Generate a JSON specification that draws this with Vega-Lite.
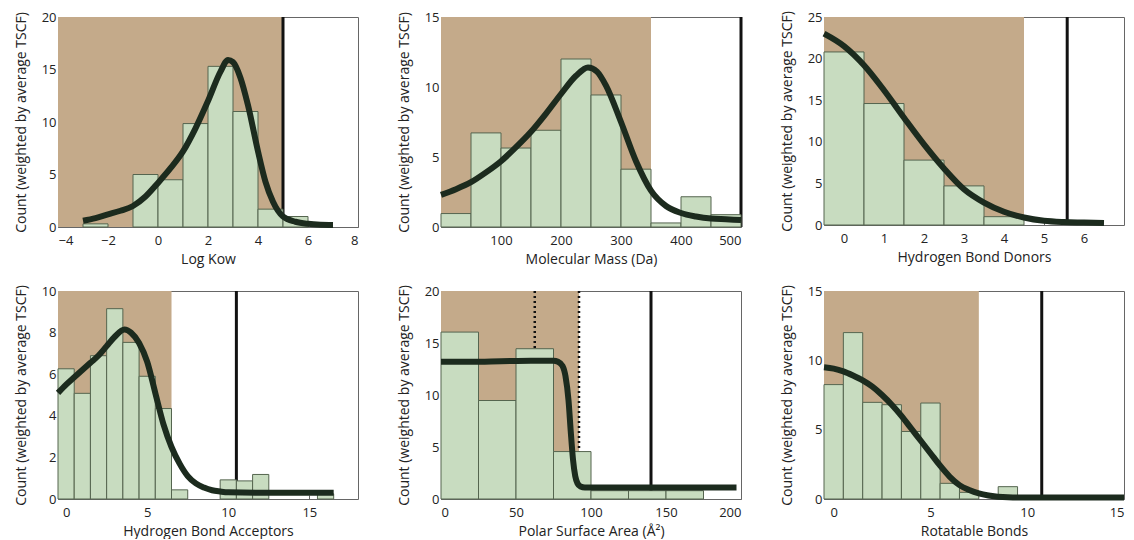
{
  "$schema": "https://vega.github.io/schema/vega-lite/v6.json",
  "padding": {"left": 13, "top": 10, "right": 0, "bottom": 0},
  "background": "white",
  "config": {
    "font": "Open Sans",
    "view": {"stroke": "#666", "strokeWidth": 1},
    "axis": {
      "domain": false, "grid": false, "tickSize": -4, "tickColor": "#666",
      "labelFont": "Open Sans", "labelFontSize": 13, "labelColor": "#222",
      "titleFont": "Open Sans", "titleFontSize": 14, "titleFontWeight": "normal", "titleColor": "#222"
    },
    "axisX": {"labelPadding": 11, "titlePadding": 5},
    "axisY": {"labelPadding": 6, "titlePadding": 13}
  },
  "datasets": {
    "bars": [
      {"p":"kow","x0":-3,"x1":-2,"y":0.3},
      {"p":"kow","x0":-1,"x1":0,"y":5.0},
      {"p":"kow","x0":0,"x1":1,"y":4.5},
      {"p":"kow","x0":1,"x1":2,"y":9.85},
      {"p":"kow","x0":2,"x1":3,"y":15.3},
      {"p":"kow","x0":3,"x1":4,"y":11.0},
      {"p":"kow","x0":4,"x1":5,"y":1.7},
      {"p":"kow","x0":5,"x1":6,"y":1.0},
      {"p":"mass","x0":0,"x1":50,"y":0.96},
      {"p":"mass","x0":50,"x1":100,"y":6.72},
      {"p":"mass","x0":100,"x1":150,"y":5.64},
      {"p":"mass","x0":150,"x1":200,"y":6.91},
      {"p":"mass","x0":200,"x1":250,"y":12.0},
      {"p":"mass","x0":250,"x1":300,"y":9.43},
      {"p":"mass","x0":300,"x1":350,"y":4.13},
      {"p":"mass","x0":350,"x1":400,"y":0.29},
      {"p":"mass","x0":400,"x1":450,"y":2.16},
      {"p":"mass","x0":450,"x1":500,"y":0.88},
      {"p":"hbd","x0":-0.5,"x1":0.5,"y":20.8},
      {"p":"hbd","x0":0.5,"x1":1.5,"y":14.6},
      {"p":"hbd","x0":1.5,"x1":2.5,"y":7.8},
      {"p":"hbd","x0":2.5,"x1":3.5,"y":4.7},
      {"p":"hbd","x0":3.5,"x1":4.5,"y":1.0},
      {"p":"hba","x0":-0.5,"x1":0.5,"y":6.26},
      {"p":"hba","x0":0.5,"x1":1.5,"y":5.08},
      {"p":"hba","x0":1.5,"x1":2.5,"y":6.89},
      {"p":"hba","x0":2.5,"x1":3.5,"y":9.15},
      {"p":"hba","x0":3.5,"x1":4.5,"y":7.53},
      {"p":"hba","x0":4.5,"x1":5.5,"y":5.9},
      {"p":"hba","x0":5.5,"x1":6.5,"y":4.35},
      {"p":"hba","x0":6.5,"x1":7.5,"y":0.44},
      {"p":"hba","x0":9.5,"x1":10.5,"y":0.92},
      {"p":"hba","x0":10.5,"x1":11.5,"y":0.87},
      {"p":"hba","x0":11.5,"x1":12.5,"y":1.18},
      {"p":"hba","x0":15.5,"x1":16.5,"y":0.25},
      {"p":"psa","x0":0,"x1":25,"y":16.05},
      {"p":"psa","x0":25,"x1":50,"y":9.47},
      {"p":"psa","x0":50,"x1":75,"y":14.45},
      {"p":"psa","x0":75,"x1":100,"y":4.56},
      {"p":"psa","x0":100,"x1":125,"y":0.8},
      {"p":"psa","x0":125,"x1":150,"y":0.8},
      {"p":"psa","x0":150,"x1":175,"y":0.8},
      {"p":"rb","x0":-0.5,"x1":0.5,"y":8.25},
      {"p":"rb","x0":0.5,"x1":1.5,"y":12.0},
      {"p":"rb","x0":1.5,"x1":2.5,"y":6.97},
      {"p":"rb","x0":2.5,"x1":3.5,"y":6.8},
      {"p":"rb","x0":3.5,"x1":4.5,"y":4.87},
      {"p":"rb","x0":4.5,"x1":5.5,"y":6.92},
      {"p":"rb","x0":5.5,"x1":6.5,"y":1.13},
      {"p":"rb","x0":6.5,"x1":7.5,"y":0.48},
      {"p":"rb","x0":8.5,"x1":9.5,"y":0.89}
    ],
    "region": [
      {"p":"kow","x0":-4,"x1":5},
      {"p":"mass","x0":0,"x1":350},
      {"p":"hbd","x0":-0.5,"x1":4.5},
      {"p":"hba","x0":-0.5,"x1":6.5},
      {"p":"psa","x0":0,"x1":92},
      {"p":"rb","x0":-0.5,"x1":7.5}
    ],
    "limits": [
      {"p":"kow","x":5},
      {"p":"mass","x":500},
      {"p":"hbd","x":5.58},
      {"p":"hba","x":10.5},
      {"p":"psa","x":140},
      {"p":"rb","x":10.75}
    ],
    "ranges": [
      {"p":"psa","x":62.5},
      {"p":"psa","x":92}
    ],
    "curve": [
      {"p":"kow","x":-3,"y":0.6},{"p":"kow","x":-2.5,"y":0.85},{"p":"kow","x":-2,"y":1.2},{"p":"kow","x":-1.5,"y":1.55},
      {"p":"kow","x":-1,"y":2.0},{"p":"kow","x":-0.5,"y":2.9},{"p":"kow","x":0,"y":4.2},{"p":"kow","x":0.5,"y":5.6},
      {"p":"kow","x":1,"y":7.2},{"p":"kow","x":1.5,"y":9.4},{"p":"kow","x":2,"y":12.0},{"p":"kow","x":2.5,"y":14.8},
      {"p":"kow","x":2.8,"y":15.9},{"p":"kow","x":3.0,"y":15.7},{"p":"kow","x":3.3,"y":14.2},{"p":"kow","x":3.6,"y":11.6},
      {"p":"kow","x":4.0,"y":7.2},{"p":"kow","x":4.3,"y":4.3},{"p":"kow","x":4.6,"y":2.4},{"p":"kow","x":5.0,"y":1.0},
      {"p":"kow","x":5.5,"y":0.5},{"p":"kow","x":6.0,"y":0.3},{"p":"kow","x":6.5,"y":0.22},{"p":"kow","x":7.0,"y":0.2},
      {"p":"mass","x":0,"y":2.3},{"p":"mass","x":25,"y":2.7},{"p":"mass","x":50,"y":3.2},{"p":"mass","x":75,"y":3.9},
      {"p":"mass","x":100,"y":4.7},{"p":"mass","x":125,"y":5.7},{"p":"mass","x":150,"y":6.8},{"p":"mass","x":175,"y":8.1},
      {"p":"mass","x":200,"y":9.5},{"p":"mass","x":225,"y":10.8},{"p":"mass","x":245,"y":11.4},{"p":"mass","x":260,"y":11.1},
      {"p":"mass","x":275,"y":10.1},{"p":"mass","x":300,"y":7.5},{"p":"mass","x":325,"y":4.7},{"p":"mass","x":350,"y":2.6},
      {"p":"mass","x":375,"y":1.5},{"p":"mass","x":400,"y":1.0},{"p":"mass","x":425,"y":0.75},{"p":"mass","x":450,"y":0.6},
      {"p":"mass","x":475,"y":0.55},{"p":"mass","x":500,"y":0.5},
      {"p":"hbd","x":-0.5,"y":23.0},{"p":"hbd","x":0,"y":21.5},{"p":"hbd","x":0.5,"y":19.2},{"p":"hbd","x":1,"y":16.2},
      {"p":"hbd","x":1.5,"y":12.9},{"p":"hbd","x":2,"y":9.7},{"p":"hbd","x":2.5,"y":6.8},{"p":"hbd","x":3,"y":4.3},
      {"p":"hbd","x":3.5,"y":2.7},{"p":"hbd","x":4,"y":1.6},{"p":"hbd","x":4.5,"y":0.9},{"p":"hbd","x":5,"y":0.5},
      {"p":"hbd","x":5.5,"y":0.35},{"p":"hbd","x":6,"y":0.3},{"p":"hbd","x":6.5,"y":0.25},
      {"p":"hba","x":-0.5,"y":5.1},{"p":"hba","x":0,"y":5.5},{"p":"hba","x":0.5,"y":5.85},{"p":"hba","x":1,"y":6.2},
      {"p":"hba","x":1.5,"y":6.55},{"p":"hba","x":2,"y":6.9},{"p":"hba","x":2.5,"y":7.35},{"p":"hba","x":3,"y":7.8},
      {"p":"hba","x":3.6,"y":8.15},{"p":"hba","x":4,"y":8.0},{"p":"hba","x":4.5,"y":7.5},{"p":"hba","x":5,"y":6.6},
      {"p":"hba","x":5.5,"y":5.1},{"p":"hba","x":6,"y":3.6},{"p":"hba","x":6.5,"y":2.5},{"p":"hba","x":7,"y":1.7},
      {"p":"hba","x":7.5,"y":1.1},{"p":"hba","x":8,"y":0.75},{"p":"hba","x":8.5,"y":0.55},{"p":"hba","x":9,"y":0.42},
      {"p":"hba","x":9.5,"y":0.36},{"p":"hba","x":10,"y":0.32},{"p":"hba","x":12,"y":0.3},{"p":"hba","x":14,"y":0.3},
      {"p":"hba","x":16.5,"y":0.3},
      {"p":"psa","x":0,"y":13.2},{"p":"psa","x":20,"y":13.2},{"p":"psa","x":40,"y":13.25},{"p":"psa","x":60,"y":13.3},
      {"p":"psa","x":75,"y":13.3},{"p":"psa","x":78,"y":13.2},{"p":"psa","x":81,"y":12.8},{"p":"psa","x":83,"y":11.8},
      {"p":"psa","x":85,"y":9.5},{"p":"psa","x":86.5,"y":6.5},{"p":"psa","x":88,"y":3.8},{"p":"psa","x":89.5,"y":2.2},
      {"p":"psa","x":91,"y":1.5},{"p":"psa","x":93,"y":1.2},{"p":"psa","x":96,"y":1.1},{"p":"psa","x":120,"y":1.1},
      {"p":"psa","x":160,"y":1.1},{"p":"psa","x":197,"y":1.1},
      {"p":"rb","x":-0.5,"y":9.5},{"p":"rb","x":0,"y":9.4},{"p":"rb","x":0.5,"y":9.2},{"p":"rb","x":1,"y":8.9},
      {"p":"rb","x":1.5,"y":8.55},{"p":"rb","x":2,"y":8.1},{"p":"rb","x":2.5,"y":7.5},{"p":"rb","x":3,"y":6.8},
      {"p":"rb","x":3.5,"y":6.0},{"p":"rb","x":4,"y":5.1},{"p":"rb","x":4.5,"y":4.2},{"p":"rb","x":5,"y":3.3},
      {"p":"rb","x":5.5,"y":2.4},{"p":"rb","x":6,"y":1.6},{"p":"rb","x":6.5,"y":1.0},{"p":"rb","x":7,"y":0.65},
      {"p":"rb","x":7.5,"y":0.4},{"p":"rb","x":8,"y":0.25},{"p":"rb","x":9,"y":0.12},{"p":"rb","x":10,"y":0.1},
      {"p":"rb","x":12,"y":0.1},{"p":"rb","x":15,"y":0.1}
    ]
  },
  "spacing": 17,
  "vconcat": [
    {
      "spacing": 83,
      "bounds": "flush",
      "hconcat": [
        {
          "width": 300, "height": 210,
          "layer": [
            {"data": {"name": "region"}, "transform": [{"filter": "datum.p == 'kow'"}], "mark": {"type": "rect", "color": "#c4aa8a"},
             "encoding": {"x": {"field": "x0", "type": "quantitative", "scale": {"domain": [-4, 8], "nice": false, "zero": false}, "axis": {"title": "Log Kow", "values": [-4,-2,0,2,4,6,8]}}, "x2": {"field": "x1"}}},
            {"data": {"name": "limits"}, "transform": [{"filter": "datum.p == 'kow'"}], "mark": {"type": "rule", "color": "#111", "strokeWidth": 3},
             "encoding": {"x": {"field": "x", "type": "quantitative"}}},
            {"data": {"name": "bars"}, "transform": [{"filter": "datum.p == 'kow'"}], "mark": {"type": "rect", "fill": "#c8dcc0", "stroke": "#55654f", "strokeWidth": 1},
             "encoding": {"x": {"field": "x0", "type": "quantitative"}, "x2": {"field": "x1"},
                          "y": {"field": "y", "type": "quantitative", "scale": {"domain": [0, 20], "nice": false}, "axis": {"title": "Count (weighted by average TSCF)", "values": [0,5,10,15,20]}}, "y2": {"datum": 0}}},
            {"data": {"name": "curve"}, "transform": [{"filter": "datum.p == 'kow'"}], "mark": {"type": "line", "color": "#1c2b1e", "strokeWidth": 6, "strokeCap": "butt", "interpolate": "monotone"},
             "encoding": {"x": {"field": "x", "type": "quantitative"}, "y": {"field": "y", "type": "quantitative"}}}
          ]
        },
        {
          "width": 300, "height": 210,
          "layer": [
            {"data": {"name": "region"}, "transform": [{"filter": "datum.p == 'mass'"}], "mark": {"type": "rect", "color": "#c4aa8a"},
             "encoding": {"x": {"field": "x0", "type": "quantitative", "scale": {"domain": [0, 500], "nice": false, "zero": false}, "axis": {"title": "Molecular Mass (Da)", "values": [100,200,300,400,500]}}, "x2": {"field": "x1"}}},
            {"data": {"name": "limits"}, "transform": [{"filter": "datum.p == 'mass'"}], "mark": {"type": "rule", "color": "#111", "strokeWidth": 3},
             "encoding": {"x": {"field": "x", "type": "quantitative"}}},
            {"data": {"name": "bars"}, "transform": [{"filter": "datum.p == 'mass'"}], "mark": {"type": "rect", "fill": "#c8dcc0", "stroke": "#55654f", "strokeWidth": 1},
             "encoding": {"x": {"field": "x0", "type": "quantitative"}, "x2": {"field": "x1"},
                          "y": {"field": "y", "type": "quantitative", "scale": {"domain": [0, 15], "nice": false}, "axis": {"title": "Count (weighted by average TSCF)", "values": [0,5,10,15]}}, "y2": {"datum": 0}}},
            {"data": {"name": "curve"}, "transform": [{"filter": "datum.p == 'mass'"}], "mark": {"type": "line", "color": "#1c2b1e", "strokeWidth": 6, "strokeCap": "butt", "interpolate": "monotone"},
             "encoding": {"x": {"field": "x", "type": "quantitative"}, "y": {"field": "y", "type": "quantitative"}}}
          ]
        },
        {
          "width": 300, "height": 208,
          "layer": [
            {"data": {"name": "region"}, "transform": [{"filter": "datum.p == 'hbd'"}], "mark": {"type": "rect", "color": "#c4aa8a"},
             "encoding": {"x": {"field": "x0", "type": "quantitative", "scale": {"domain": [-0.5, 7], "nice": false, "zero": false}, "axis": {"title": "Hydrogen Bond Donors", "values": [0,1,2,3,4,5,6]}}, "x2": {"field": "x1"}}},
            {"data": {"name": "limits"}, "transform": [{"filter": "datum.p == 'hbd'"}], "mark": {"type": "rule", "color": "#111", "strokeWidth": 3},
             "encoding": {"x": {"field": "x", "type": "quantitative"}}},
            {"data": {"name": "bars"}, "transform": [{"filter": "datum.p == 'hbd'"}], "mark": {"type": "rect", "fill": "#c8dcc0", "stroke": "#55654f", "strokeWidth": 1},
             "encoding": {"x": {"field": "x0", "type": "quantitative"}, "x2": {"field": "x1"},
                          "y": {"field": "y", "type": "quantitative", "scale": {"domain": [0, 25], "nice": false}, "axis": {"title": "Count (weighted by average TSCF)", "values": [0,5,10,15,20,25]}}, "y2": {"datum": 0}}},
            {"data": {"name": "curve"}, "transform": [{"filter": "datum.p == 'hbd'"}], "mark": {"type": "line", "color": "#1c2b1e", "strokeWidth": 6, "strokeCap": "butt", "interpolate": "monotone"},
             "encoding": {"x": {"field": "x", "type": "quantitative"}, "y": {"field": "y", "type": "quantitative"}}}
          ]
        }
      ]
    },
    {
      "spacing": 83,
      "bounds": "flush",
      "hconcat": [
        {
          "width": 300, "height": 208,
          "layer": [
            {"data": {"name": "region"}, "transform": [{"filter": "datum.p == 'hba'"}], "mark": {"type": "rect", "color": "#c4aa8a"},
             "encoding": {"x": {"field": "x0", "type": "quantitative", "scale": {"domain": [-0.5, 18], "nice": false, "zero": false}, "axis": {"title": "Hydrogen Bond Acceptors", "values": [0,5,10,15]}}, "x2": {"field": "x1"}}},
            {"data": {"name": "limits"}, "transform": [{"filter": "datum.p == 'hba'"}], "mark": {"type": "rule", "color": "#111", "strokeWidth": 3},
             "encoding": {"x": {"field": "x", "type": "quantitative"}}},
            {"data": {"name": "bars"}, "transform": [{"filter": "datum.p == 'hba'"}], "mark": {"type": "rect", "fill": "#c8dcc0", "stroke": "#55654f", "strokeWidth": 1},
             "encoding": {"x": {"field": "x0", "type": "quantitative"}, "x2": {"field": "x1"},
                          "y": {"field": "y", "type": "quantitative", "scale": {"domain": [0, 10], "nice": false}, "axis": {"title": "Count (weighted by average TSCF)", "values": [0,2,4,6,8,10]}}, "y2": {"datum": 0}}},
            {"data": {"name": "curve"}, "transform": [{"filter": "datum.p == 'hba'"}], "mark": {"type": "line", "color": "#1c2b1e", "strokeWidth": 6, "strokeCap": "butt", "interpolate": "monotone"},
             "encoding": {"x": {"field": "x", "type": "quantitative"}, "y": {"field": "y", "type": "quantitative"}}}
          ]
        },
        {
          "width": 300, "height": 208,
          "layer": [
            {"data": {"name": "region"}, "transform": [{"filter": "datum.p == 'psa'"}], "mark": {"type": "rect", "color": "#c4aa8a"},
             "encoding": {"x": {"field": "x0", "type": "quantitative", "scale": {"domain": [0, 200], "nice": false, "zero": false}, "axis": {"title": "Polar Surface Area (Å²)", "values": [0,50,100,150,200]}}, "x2": {"field": "x1"}}},
            {"data": {"name": "ranges"}, "transform": [{"filter": "datum.p == 'psa'"}], "mark": {"type": "rule", "color": "#111", "strokeWidth": 2.5, "strokeDash": [2, 3]},
             "encoding": {"x": {"field": "x", "type": "quantitative"}}},
            {"data": {"name": "limits"}, "transform": [{"filter": "datum.p == 'psa'"}], "mark": {"type": "rule", "color": "#111", "strokeWidth": 3},
             "encoding": {"x": {"field": "x", "type": "quantitative"}}},
            {"data": {"name": "bars"}, "transform": [{"filter": "datum.p == 'psa'"}], "mark": {"type": "rect", "fill": "#c8dcc0", "stroke": "#55654f", "strokeWidth": 1},
             "encoding": {"x": {"field": "x0", "type": "quantitative"}, "x2": {"field": "x1"},
                          "y": {"field": "y", "type": "quantitative", "scale": {"domain": [0, 20], "nice": false}, "axis": {"title": "Count (weighted by average TSCF)", "values": [0,5,10,15,20]}}, "y2": {"datum": 0}}},
            {"data": {"name": "curve"}, "transform": [{"filter": "datum.p == 'psa'"}], "mark": {"type": "line", "color": "#1c2b1e", "strokeWidth": 6, "strokeCap": "butt", "interpolate": "monotone"},
             "encoding": {"x": {"field": "x", "type": "quantitative"}, "y": {"field": "y", "type": "quantitative"}}}
          ]
        },
        {
          "width": 300, "height": 208,
          "layer": [
            {"data": {"name": "region"}, "transform": [{"filter": "datum.p == 'rb'"}], "mark": {"type": "rect", "color": "#c4aa8a"},
             "encoding": {"x": {"field": "x0", "type": "quantitative", "scale": {"domain": [-0.5, 15], "nice": false, "zero": false}, "axis": {"title": "Rotatable Bonds", "values": [0,5,10,15]}}, "x2": {"field": "x1"}}},
            {"data": {"name": "limits"}, "transform": [{"filter": "datum.p == 'rb'"}], "mark": {"type": "rule", "color": "#111", "strokeWidth": 3},
             "encoding": {"x": {"field": "x", "type": "quantitative"}}},
            {"data": {"name": "bars"}, "transform": [{"filter": "datum.p == 'rb'"}], "mark": {"type": "rect", "fill": "#c8dcc0", "stroke": "#55654f", "strokeWidth": 1},
             "encoding": {"x": {"field": "x0", "type": "quantitative"}, "x2": {"field": "x1"},
                          "y": {"field": "y", "type": "quantitative", "scale": {"domain": [0, 15], "nice": false}, "axis": {"title": "Count (weighted by average TSCF)", "values": [0,5,10,15]}}, "y2": {"datum": 0}}},
            {"data": {"name": "curve"}, "transform": [{"filter": "datum.p == 'rb'"}], "mark": {"type": "line", "color": "#1c2b1e", "strokeWidth": 6, "strokeCap": "butt", "interpolate": "monotone"},
             "encoding": {"x": {"field": "x", "type": "quantitative"}, "y": {"field": "y", "type": "quantitative"}}}
          ]
        }
      ]
    }
  ]
}
